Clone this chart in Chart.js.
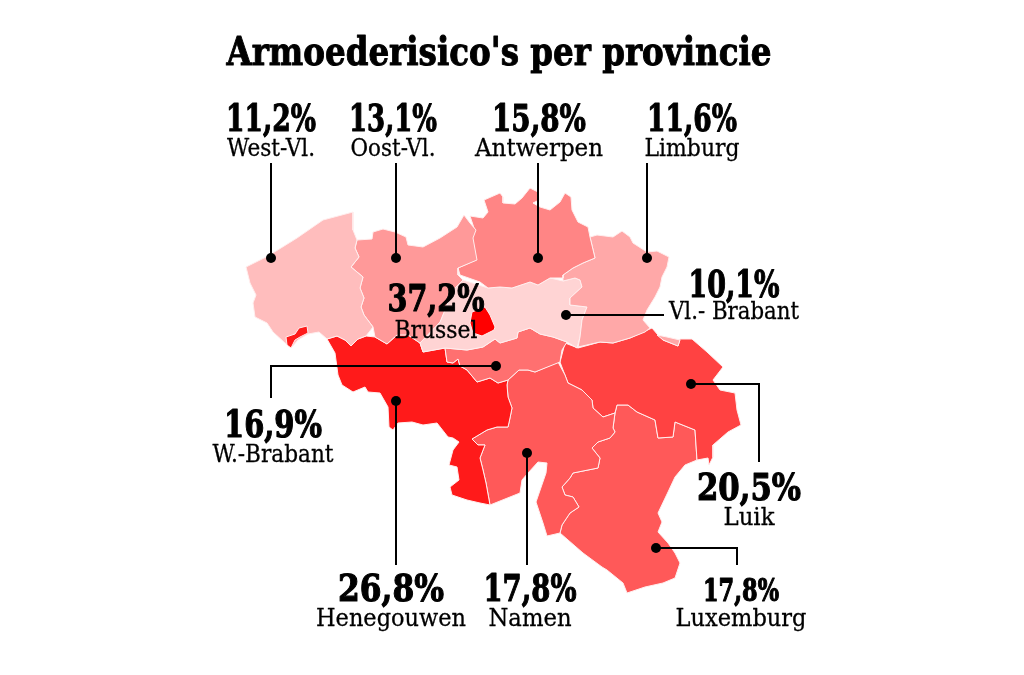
<!DOCTYPE html>
<html>
<head>
<meta charset="utf-8">
<title>Armoederisico's per provincie</title>
<script src="https://cdn.jsdelivr.net/npm/chart.js@4/dist/chart.umd.min.js"></script>
<style>
  html, body { margin: 0; background: #fff; }
  canvas { display: block; }
</style>
</head>
<body>
<canvas id="kaart" width="1024" height="675"></canvas>
<script>
const title = "Armoederisico's per provincie"
const provinces = ['West-Vl.', 'Oost-Vl.', 'Antwerpen', 'Limburg', 'Vl.- Brabant', 'Brussel', 'W.-Brabant', 'Henegouwen', 'Namen', 'Luik', 'Luxemburg']
const values = [11.2, 13.1, 15.8, 11.6, 10.1, 37.2, 16.9, 26.8, 17.8, 20.5, 17.8]
const colors = ['#ffbdbd', '#ff9999', '#ff8585', '#ffa8a8', '#ffd4d4', '#ff0000', '#ff7070', '#ff1a1a', '#ff5959', '#ff4242', '#ff5959']

const westVl = [[353,212],[353,230],[357,240],[355,248],[359,257],[351,267],[363,277],[360,288],[364,298],[361,307],[364,315],[373,327],[366,336],[358,339],[351,346],[345,340],[337,336],[327,339],[319,332],[308,334],[298,340],[292,347],[285,343],[273,332],[267,323],[255,317],[253,303],[256,295],[250,283],[246,267],[268,256],[297,238],[323,220]]
const komen = [[286,337],[295,334],[299,328],[307,326],[308,333],[300,337],[295,340],[291,348],[287,345]]
const oostVl = [[357,240],[372,239],[373,232],[383,229],[395,232],[406,237],[408,245],[423,247],[440,238],[457,227],[464,215],[470,223],[476,230],[473,238],[477,260],[458,268],[458,275],[463,280],[453,290],[440,322],[420,343],[408,335],[397,335],[387,344],[375,337],[373,327],[364,315],[361,307],[364,298],[360,288],[363,277],[351,267],[359,257],[355,248]]
const antwerpen = [[484,200],[500,193],[503,197],[503,203],[515,204],[522,198],[530,188],[538,192],[539,200],[533,203],[540,207],[550,210],[560,202],[565,193],[571,197],[572,210],[578,222],[588,227],[590,237],[595,258],[583,263],[573,268],[563,275],[563,278],[550,278],[538,285],[530,282],[512,288],[500,287],[488,288],[480,282],[460,275],[458,268],[476,260],[472,237],[474,228],[470,216],[483,218],[488,212]]
const limburg = [[590,237],[597,235],[613,237],[622,231],[630,237],[633,243],[647,252],[657,251],[669,257],[667,267],[662,277],[660,287],[655,297],[647,310],[643,320],[650,328],[645,332],[630,338],[613,343],[600,342],[578,347],[580,337],[582,320],[587,307],[570,305],[570,298],[582,287],[580,280],[575,278],[563,281],[563,275],[573,268],[583,263],[595,258]]
const voeren = [[657,335],[667,337],[680,340],[678,346],[663,340]]
const vlBrabant = [[463,280],[488,288],[500,287],[512,288],[530,282],[538,285],[550,278],[563,281],[575,278],[580,280],[582,287],[570,298],[570,305],[587,307],[582,320],[580,337],[577,348],[567,342],[553,337],[540,334],[530,328],[518,332],[517,338],[500,343],[495,339],[483,347],[467,350],[445,348],[423,352],[420,343],[440,322],[453,290]]
const brussel = [[472,312],[485,307],[490,315],[495,327],[494,330],[482,336],[473,333],[470,323]]
const waalsBrabant = [[445,348],[467,350],[483,347],[495,339],[500,343],[517,338],[518,332],[530,328],[540,334],[553,337],[567,342],[562,350],[560,362],[535,372],[528,370],[519,370],[508,380],[498,383],[490,378],[477,382],[467,370],[460,366],[458,359],[453,363],[447,362]]
const henegouwen = [[327,339],[337,336],[345,340],[351,346],[358,339],[366,336],[375,337],[387,344],[397,335],[408,335],[420,343],[423,352],[445,348],[447,362],[453,363],[458,359],[460,366],[467,370],[477,382],[490,378],[498,383],[508,380],[507,385],[508,397],[512,408],[510,418],[508,427],[497,427],[487,430],[472,439],[478,445],[485,445],[480,458],[483,470],[486,483],[490,505],[480,503],[467,500],[452,495],[450,487],[459,480],[457,467],[449,465],[453,450],[459,442],[453,438],[448,437],[437,423],[423,425],[412,422],[398,423],[393,430],[389,427],[388,407],[380,393],[368,392],[365,387],[353,392],[342,385],[338,375],[335,353]]
const namen = [[508,380],[519,370],[528,370],[535,372],[558,362],[565,375],[568,383],[582,390],[592,400],[593,408],[603,417],[615,413],[613,428],[615,432],[610,438],[598,442],[592,448],[600,458],[598,468],[573,473],[570,478],[562,487],[565,495],[573,497],[579,507],[570,513],[562,525],[560,533],[547,536],[543,523],[536,502],[546,473],[547,463],[538,462],[528,473],[522,480],[520,493],[490,505],[486,483],[483,470],[480,458],[485,445],[478,445],[472,439],[487,430],[497,427],[508,427],[510,418],[512,408],[508,397],[507,385]]
const luik = [[565,343],[578,348],[600,342],[613,343],[630,338],[652,328],[658,335],[663,340],[678,346],[680,339],[692,339],[707,352],[723,367],[713,380],[720,390],[735,393],[737,410],[741,425],[728,432],[713,445],[713,457],[709,465],[708,458],[697,460],[695,430],[675,422],[673,437],[658,438],[655,420],[637,412],[628,405],[617,405],[615,413],[603,417],[593,408],[592,400],[582,390],[568,383],[563,370],[560,362]]
const luxemburg = [[615,413],[617,405],[628,405],[637,412],[655,420],[658,438],[673,437],[675,422],[695,430],[697,460],[685,465],[675,477],[668,492],[658,513],[662,522],[658,532],[668,543],[675,553],[680,563],[675,578],[663,583],[645,587],[627,593],[623,583],[607,570],[602,567],[583,553],[560,533],[562,525],[570,513],[579,507],[573,497],[565,495],[562,487],[570,478],[573,473],[598,468],[600,458],[592,448],[598,442],[610,438],[615,432],[613,428]]

// leader lines, first point carries the dot
const leaders = [
  [[271,258],[271,163]],
  [[396,258],[396,163]],
  [[538,258],[538,163]],
  [[647,258],[647,163]],
  [[566,315],[664,315]],
  [[496,366],[271,366],[271,398]],
  [[396,401],[396,565]],
  [[527,453],[527,565]],
  [[691,384],[759,384],[759,462]],
  [[656,548],[737,548],[737,565]],
]

// label layout per province: centre x, baseline of the percentage, baseline of the name
const labelX = [271, 393, 539, 692, 734, 436, 273, 391, 530, 749, 741]
const pctY = [131, 131, 131, 131, 297, 311, 437, 601, 601, 500, 601]
const nameY = [156, 156, 156, 156, 319, 338, 462, 626, 626, 525, 626]
const pctWidth = [90, 88, 94, 90, 91, 97, 98, 106, 93, 104, 76]
const nameWidth = [88, 85, 128, 95, 130, 83, 121, 150, 83, 51, 131]
const pctSize = [38, 38, 38, 38, 38, 38, 38, 38, 38, 38, 31]

const toPoints = (shape) => shape.concat([shape[0]]).map((p) => ({ x: p[0], y: p[1] }))

const area = (shape, color, order) => ({
  data: toPoints(shape),
  showLine: true,
  fill: 'shape',
  backgroundColor: color,
  borderColor: '#ffeeee',
  borderWidth: 1,
  pointRadius: 0,
  order: order,
})

const leaderSets = leaders.map((line) => ({
  data: line.map((p) => ({ x: p[0], y: p[1] })),
  showLine: true,
  fill: false,
  borderColor: '#000',
  borderWidth: 2,
  backgroundColor: '#000',
  pointBackgroundColor: '#000',
  pointBorderWidth: 0,
  pointRadius: line.map((p, i) => (i === 0 ? 5 : 0)),
  order: 1,
}))

const shapes = [westVl, oostVl, antwerpen, limburg, vlBrabant, brussel, waalsBrabant, henegouwen, namen, luik, luxemburg]
const areaSets = shapes.map((s, i) => area(s, colors[i], s === brussel ? 2 : 3))
areaSets.push(area(komen, colors[7], 2))
areaSets.push(area(voeren, colors[3], 2))

const textPlugin = {
  id: 'teksten',
  afterDraw(chart) {
    const ctx = chart.ctx
    const x = chart.scales.x
    const y = chart.scales.y
    ctx.save()
    ctx.fillStyle = '#000'
    ctx.strokeStyle = '#000'
    ctx.lineJoin = 'round'
    ctx.textAlign = 'center'
    ctx.textBaseline = 'alphabetic'
    const put = (text, cx, by, maxW, weight) => {
      ctx.fillText(text, cx, by, maxW)
      if (weight > 0) {
        ctx.lineWidth = weight
        ctx.strokeText(text, cx, by, maxW)
      }
    }
    ctx.font = 'bold 39px "DejaVu Serif"'
    put(title, x.getPixelForValue(499), y.getPixelForValue(65), 545, 1)
    provinces.forEach((name, i) => {
      const cx = x.getPixelForValue(labelX[i])
      ctx.font = 'bold ' + pctSize[i] + 'px "DejaVu Serif"'
      put(values[i].toFixed(1).replace('.', ',') + '%', cx, y.getPixelForValue(pctY[i]), pctWidth[i], 1.2)
      ctx.font = '24px "DejaVu Serif"'
      put(name, cx, y.getPixelForValue(nameY[i]), nameWidth[i], 0.3)
    })
    ctx.restore()
  },
}

new Chart(document.getElementById('kaart').getContext('2d'), {
  type: 'scatter',
  data: { datasets: leaderSets.concat(areaSets) },
  plugins: [textPlugin],
  options: {
    responsive: false,
    animation: false,
    layout: { padding: 0, autoPadding: false },
    elements: { line: { tension: 0 } },
    plugins: { legend: { display: false }, tooltip: { enabled: false }, title: { display: false } },
    scales: {
      x: { type: 'linear', display: false, min: 0, max: 1024 },
      y: { type: 'linear', display: false, min: 0, max: 675, reverse: true },
    },
  },
})
</script>
</body>
</html>
